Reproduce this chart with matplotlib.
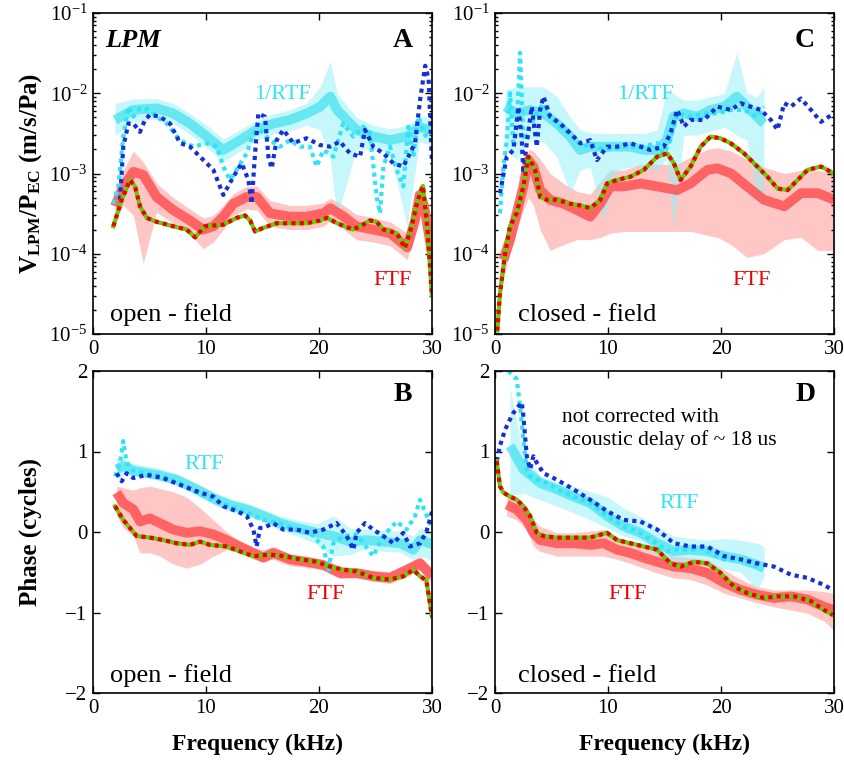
import numpy as np
import matplotlib.pyplot as plt
from matplotlib.ticker import LogLocator, NullFormatter, FixedLocator

plt.rcParams['font.family'] = ['Liberation Serif', 'DejaVu Serif']
plt.rcParams['mathtext.fontset'] = 'custom'
plt.rcParams['mathtext.rm'] = 'Liberation Serif'
plt.rcParams['mathtext.bf'] = 'Liberation Serif:bold'
plt.rcParams['mathtext.it'] = 'Liberation Serif:italic'

# ---------------- A: open field, magnitude ----------------
a_rtf_f = [1.95, 3.57, 5.63, 7.1, 8.58, 10.06, 11.53, 13.0, 14.5, 16.0, 17.4, 18.9, 20.1, 21.0, 21.6,
           23.3, 24.8, 26.3, 27.8, 28.9, 30]
a_rtf_mean = [4.65e-3, 6.2e-3, 6.5e-3, 5.6e-3, 4.2e-3, 2.9e-3, 1.96e-3, 2.6e-3, 3.5e-3, 4.2e-3, 4.65e-3,
              5.6e-3, 6.8e-3, 9.1e-3, 6.2e-3, 3.5e-3, 2.9e-3, 2.6e-3, 2.9e-3, 3.8e-3, 3.4e-3]
a_rtf_hi = [7.5e-3, 8.5e-3, 8.6e-3, 7.5e-3, 5.6e-3, 4.0e-3, 2.7e-3, 3.5e-3, 4.6e-3, 5.5e-3, 6.2e-3,
            7.5e-3, 1.2e-2, 2.5e-2, 1.0e-2, 5.0e-3, 4.0e-3, 3.6e-3, 4.0e-3, 5.0e-3, 5.0e-3]
a_rtf_lo = [3.0e-3, 4.4e-3, 4.8e-3, 4.2e-3, 3.1e-3, 2.1e-3, 1.4e-3, 1.9e-3, 2.6e-3, 3.1e-3, 3.4e-3,
            4.0e-3, 3.5e-3, 1.5e-3, 2.9e-4, 2.0e-3, 2.0e-3, 1.8e-3, 2.2e-4, 2.5e-3, 2.2e-3]
a_ftf_f = [1.95, 2.68, 3.57, 4.45, 5.63, 7.1, 8.58, 9.76, 10.65, 11.53, 12.42, 13.6, 14.5, 15.66, 17.4,
           18.9, 20.4, 21.0, 22.2, 23.3, 24.8, 26.3, 27.8, 28.5, 28.9, 29.3, 30]
a_ftf_mean = [3.9e-4, 6.9e-4, 1.05e-3, 9.6e-4, 5.1e-4, 3.5e-4, 2.6e-4, 2.0e-4, 2.2e-4, 2.9e-4, 4.2e-4,
              5.1e-4, 5.1e-4, 3.2e-4, 2.9e-4, 2.9e-4, 3.2e-4, 3.7e-4, 2.9e-4, 2.2e-4, 2.0e-4, 1.8e-4,
              1.2e-4, 2.6e-4, 5.4e-4, 4.0e-4, 1.0e-4]
a_ftf_hi = [5.5e-4, 1.1e-3, 1.9e-3, 1.4e-3, 7.5e-4, 5.0e-4, 3.6e-4, 2.8e-4, 3.0e-4, 4.0e-4, 5.6e-4,
            6.9e-4, 7.0e-4, 4.6e-4, 4.0e-4, 4.0e-4, 4.3e-4, 4.9e-4, 4.0e-4, 3.1e-4, 2.8e-4, 2.5e-4,
            1.8e-4, 3.6e-4, 7.5e-4, 6.0e-4, 1.6e-4]
a_ftf_lo = [2.6e-4, 4.0e-4, 3.0e-4, 7.6e-5, 3.3e-4, 2.4e-4, 1.8e-4, 1.15e-4, 1.4e-4, 2.0e-4, 3.0e-4,
            3.6e-4, 3.5e-4, 2.2e-4, 2.0e-4, 2.0e-4, 2.2e-4, 2.6e-4, 2.0e-4, 1.5e-4, 1.4e-4, 1.25e-4,
            8.5e-5, 1.8e-4, 3.8e-4, 2.7e-4, 6.0e-5]
a_cyan_f = [1.8, 2.24, 2.68, 3.13, 3.57, 4.16, 4.9, 5.63, 6.52, 7.7, 8.88, 10.06, 10.94, 11.53, 12.12,
            12.71, 13.6, 14.19, 14.78, 15.66, 16.55, 17.43, 18.32, 19.2, 19.79, 20.38, 21.27, 22.15,
            23.04, 23.92, 24.51, 25.1, 25.4, 25.69, 26.28, 26.87, 27.46, 27.9, 28.35, 28.79, 29.4, 30]
a_cyan_v = [4.2e-4, 6.9e-4, 2.88e-3, 6.8e-3, 5.1e-3, 6.5e-3, 6.2e-3, 5.1e-3, 4.2e-3, 2.6e-3, 2.16e-3,
            2.38e-3, 2.16e-3, 1.22e-3, 8.3e-4, 1.11e-3, 1.78e-3, 3.16e-3, 3.5e-3, 2.6e-3, 2.16e-3,
            2.6e-3, 2.16e-3, 2.16e-3, 1.22e-3, 1.96e-3, 1.62e-3, 4.2e-3, 2.88e-3, 3.84e-3, 3.16e-3,
            5.1e-4, 3.2e-4, 1.22e-3, 2.16e-3, 1.11e-3, 6.9e-4, 3.84e-3, 1.62e-3, 5.1e-3, 3.0e-3, 2.6e-3]
a_blue_f = [2.39, 2.68, 3.13, 3.57, 4.16, 4.6, 5.04, 5.93, 6.81, 7.7, 8.58, 9.47, 10.65, 11.53, 12.42,
            13.16, 13.75, 14.04, 14.34, 14.63, 15.22, 15.52, 15.81, 16.25, 16.84, 17.73, 18.9, 20.1,
            20.97, 21.86, 22.74, 23.63, 24.07, 24.8, 25.7, 26.58, 27.46, 28.05, 28.5, 28.94, 29.4,
            29.7, 30]
a_blue_v = [4.7e-4, 2.16e-3, 4.2e-3, 4.2e-3, 3.3e-3, 4.65e-3, 5.4e-3, 5.1e-3, 4.2e-3, 2.4e-3, 2.16e-3,
            1.62e-3, 1.11e-3, 5.4e-4, 9.1e-4, 1.34e-3, 8.3e-4, 4.2e-4, 1.78e-3, 5.6e-3, 5.1e-3,
            1.62e-3, 1.16e-3, 2.6e-3, 3.5e-3, 2.4e-3, 2.75e-3, 2.26e-3, 2.16e-3, 2.5e-3, 1.78e-3,
            1.62e-3, 3.5e-3, 2.16e-3, 1.78e-3, 1.34e-3, 1.22e-3, 1.78e-3, 2.4e-3, 8.2e-3, 2.2e-2,
            1.5e-2, 1.3e-3]
a_fd_f = [1.8, 2.54, 3.27, 3.72, 4.16, 4.75, 5.63, 7.1, 8.29, 9.03, 9.91, 11.53, 12.71, 13.45, 13.9,
          14.34, 15.07, 16.25, 17.43, 18.9, 20.1, 20.7, 21.6, 23.0, 23.9, 24.5, 25.1, 25.7, 26.9, 27.6,
          28.2, 28.6, 28.94, 29.2, 29.6, 30]
a_fd_v = [2.2e-4, 4.7e-4, 8.3e-4, 6.9e-4, 3.9e-4, 2.8e-4, 2.5e-4, 2.2e-4, 2.0e-4, 1.6e-4, 2.2e-4,
          2.3e-4, 2.8e-4, 3.0e-4, 2.6e-4, 1.9e-4, 2.1e-4, 2.4e-4, 2.4e-4, 2.4e-4, 2.6e-4, 2.8e-4,
          2.4e-4, 2.0e-4, 2.3e-4, 2.6e-4, 2.5e-4, 2.0e-4, 1.8e-4, 1.17e-4, 2.2e-4, 3.9e-4, 5.7e-4,
          7.0e-4, 2.0e-4, 3.0e-5]

# ---------------- C: closed field, magnitude ----------------
c_rtf_f = [0.89, 1.92, 3.1, 4.29, 5.47, 6.66, 7.54, 8.43, 9.6, 10.8, 12.0, 13.2, 14.35, 15.2, 15.8,
           16.7, 17.9, 19.1, 20.3, 21.4, 22.3, 23.2, 23.8]
c_rtf_mean = [6.8e-3, 5.6e-3, 6.2e-3, 5.6e-3, 4.2e-3, 2.88e-3, 1.96e-3, 2.16e-3, 2.16e-3, 2.16e-3,
              2.16e-3, 1.96e-3, 1.96e-3, 2.6e-3, 5.1e-3, 5.6e-3, 5.1e-3, 6.2e-3, 6.8e-3, 9.1e-3,
              6.8e-3, 5.1e-3, 4.2e-3]
c_rtf_hi = [1.1e-2, 1.2e-2, 1.2e-2, 1.2e-2, 9.1e-3, 5.0e-3, 3.5e-3, 3.2e-3, 3.16e-3, 3.16e-3, 3.16e-3,
            3.16e-3, 3.5e-3, 1.1e-2, 1.0e-2, 8.2e-3, 8.2e-3, 9.0e-3, 1.0e-2, 3.2e-2, 1.0e-2, 9.0e-3,
            1.2e-2]
c_rtf_lo = [1.96e-3, 1.5e-3, 2.6e-3, 2.5e-3, 1.6e-3, 5.7e-4, 1.1e-3, 1.2e-3, 2.6e-4, 1.1e-3, 1.2e-3,
            1.2e-3, 1.1e-3, 1.5e-3, 2.0e-4, 3.0e-3, 3.0e-3, 3.4e-3, 3.8e-3, 3.0e-3, 2.6e-3, 4.7e-4,
            3.9e-4]
c_ftf_f = [0.74, 1.33, 1.92, 2.51, 2.96, 3.4, 4.0, 4.88, 6.07, 7.25, 8.43, 9.32, 10.2, 11.4, 12.9,
           14.35, 16.1, 17.3, 18.8, 19.7, 20.9, 22.3, 23.8, 25.6, 27.1, 28.55, 30]
c_ftf_mean = [8.4e-5, 1.5e-4, 3.2e-4, 6.9e-4, 1.47e-3, 1.22e-3, 6.2e-4, 4.7e-4, 4.2e-4, 3.5e-4, 2.9e-4,
              4.2e-4, 6.9e-4, 6.9e-4, 7.5e-4, 6.9e-4, 6.2e-4, 7.5e-4, 1.11e-3, 1.16e-3, 1.0e-3,
              6.9e-4, 4.7e-4, 3.9e-4, 5.7e-4, 5.7e-4, 4.7e-4]
c_ftf_hi = [1.2e-4, 2.2e-4, 5.0e-4, 1.0e-3, 2.0e-3, 1.9e-3, 1.5e-3, 1.0e-3, 7.5e-4, 6.0e-4, 5.5e-4,
            8.0e-4, 1.1e-3, 1.1e-3, 1.3e-3, 1.3e-3, 1.3e-3, 1.6e-3, 2.0e-3, 2.1e-3, 1.9e-3, 1.5e-3,
            1.2e-3, 1.0e-3, 1.1e-3, 1.1e-3, 1.0e-3]
c_ftf_lo = [5.0e-5, 1.0e-4, 2.0e-4, 3.5e-4, 5.0e-4, 4.0e-4, 2.0e-4, 1.1e-4, 1.3e-4, 1.5e-4, 1.5e-4,
            1.6e-4, 1.8e-4, 1.9e-4, 1.9e-4, 1.9e-4, 1.9e-4, 1.9e-4, 1.7e-4, 1.6e-4, 1.3e-4, 9.0e-5,
            1.0e-4, 1.5e-4, 1.6e-4, 1.1e-4, 1.1e-4]
c_cyan_f = [0.44, 0.74, 1.04, 1.33, 1.63, 1.92, 2.22, 2.51, 3.1, 3.7, 4.29, 4.88, 5.77, 6.95, 7.84,
            8.43, 9.62, 11.39, 12.87, 14.35, 14.94, 15.53, 16.12, 17.31, 18.49, 19.67, 20.86, 22.04,
            23.22, 23.82]
c_cyan_v = [3.2e-4, 1.22e-3, 2.6e-3, 1.0e-2, 2.16e-3, 3.84e-3, 3.2e-2, 2.6e-3, 3.84e-3, 5.6e-3, 7.5e-3,
            5.1e-3, 3.84e-3, 2.88e-3, 2.16e-3, 2.38e-3, 1.96e-3, 2.16e-3, 2.16e-3, 2.38e-3, 1.78e-3,
            2.6e-3, 5.6e-3, 5.1e-3, 5.6e-3, 5.6e-3, 6.2e-3, 6.2e-3, 5.1e-3, 6.8e-3]
c_blue_f = [0.44, 1.04, 1.63, 2.07, 2.37, 2.51, 2.81, 3.25, 3.7, 3.99, 4.29, 4.88, 5.77, 6.66, 7.54,
            8.43, 9.02, 9.91, 10.8, 11.98, 12.87, 13.76, 14.94, 15.53, 16.12, 16.72, 17.31, 18.49,
            19.67, 20.86, 21.75, 22.63, 23.52, 24.41, 25.0, 25.59, 26.18, 27.07, 27.96, 28.85, 29.73]
c_blue_v = [5.7e-4, 1.62e-3, 1.96e-3, 6.8e-3, 2.6e-3, 1.0e-3, 2.38e-3, 6.8e-3, 2.16e-3, 6.2e-3, 9.1e-3,
            5.1e-3, 4.2e-3, 3.16e-3, 2.38e-3, 2.6e-3, 1.47e-3, 2.16e-3, 2.16e-3, 2.38e-3, 2.16e-3,
            1.96e-3, 2.16e-3, 3.16e-3, 6.2e-3, 3.84e-3, 4.65e-3, 4.65e-3, 6.8e-3, 6.2e-3, 7.5e-3,
            6.8e-3, 6.2e-3, 4.65e-3, 3.5e-3, 7.5e-3, 6.8e-3, 8.6e-3, 6.2e-3, 4.4e-3, 5.3e-3]
c_fd_f = [0.2, 0.44, 0.89, 1.33, 1.92, 2.51, 2.96, 3.55, 3.99, 4.59, 5.47, 6.66, 7.54, 8.43, 9.32,
          9.91, 10.8, 11.98, 13.17, 14.35, 15.24, 15.83, 16.42, 17.31, 18.2, 19.08, 19.97, 20.86,
          22.04, 23.22, 24.11, 25.0, 25.89, 26.78, 27.66, 28.85, 30]
c_fd_v = [1.1e-5, 3.2e-5, 1.0e-4, 2.2e-4, 3.2e-4, 6.9e-4, 1.62e-3, 1.11e-3, 5.1e-4, 4.7e-4, 4.7e-4,
          4.2e-4, 4.0e-4, 3.7e-4, 4.7e-4, 7.5e-4, 8.3e-4, 9.1e-4, 1.11e-3, 1.62e-3, 1.78e-3, 1.34e-3,
          8.3e-4, 1.22e-3, 2.16e-3, 2.88e-3, 2.74e-3, 2.38e-3, 1.78e-3, 1.22e-3, 9.1e-4, 6.5e-4,
          6.2e-4, 8.3e-4, 1.11e-3, 1.22e-3, 1.0e-3]

# ---------------- B: open field, phase ----------------
b_rtf_f = [2.09, 2.68, 3.57, 5.63, 7.4, 9.17, 10.94, 12.42, 13.6, 15.07, 16.55, 18.02, 19.79, 21.27,
           22.74, 24.22, 25.69, 27.17, 28.35, 28.94, 30]
b_rtf_mean = [0.78, 0.82, 0.76, 0.71, 0.65, 0.53, 0.40, 0.32, 0.28, 0.20, 0.11, 0.05, -0.01, -0.05,
              -0.12, -0.10, -0.12, -0.14, -0.22, -0.10, -0.15]
b_rtf_hi = [0.90, 0.92, 0.85, 0.80, 0.72, 0.60, 0.48, 0.40, 0.36, 0.28, 0.20, 0.15, 0.10, 0.20, 0.05,
            0.03, 0.02, 0.01, -0.05, 0.05, 0.0]
b_rtf_lo = [0.65, 0.70, 0.70, 0.65, 0.58, 0.46, 0.32, 0.24, 0.20, 0.12, 0.02, -0.05, -0.15, -0.30,
            -0.28, -0.20, -0.24, -0.25, -0.35, -0.30, -0.35]
b_ftf_f = [2.09, 2.68, 3.57, 4.16, 5.04, 5.93, 7.1, 8.29, 9.47, 10.65, 11.83, 13.0, 14.19, 15.07,
           15.96, 17.43, 18.9, 20.38, 21.86, 23.33, 24.8, 26.28, 27.76, 28.94, 30]
b_ftf_mean = [0.49, 0.36, 0.28, 0.13, 0.17, 0.11, 0.03, -0.01, 0.01, -0.03, -0.10, -0.18, -0.26,
              -0.32, -0.26, -0.34, -0.37, -0.41, -0.51, -0.51, -0.55, -0.57, -0.47, -0.39, -0.55]
b_ftf_hi = [0.57, 0.55, 0.52, 0.55, 0.57, 0.54, 0.50, 0.43, 0.30, 0.15, 0.0, -0.12, -0.20, -0.22,
            -0.18, -0.28, -0.32, -0.34, -0.42, -0.45, -0.48, -0.49, -0.40, -0.30, -0.45]
b_ftf_lo = [0.20, 0.05, -0.05, -0.26, -0.26, -0.30, -0.40, -0.45, -0.40, -0.30, -0.22, -0.26, -0.34,
            -0.36, -0.34, -0.42, -0.44, -0.47, -0.58, -0.57, -0.61, -0.64, -0.56, -0.47, -0.65]
b_cyan_f = [1.95, 2.39, 2.68, 2.98, 3.57, 4.75, 6.22, 7.7, 9.17, 10.65, 12.12, 13.6, 15.07, 16.55,
            18.02, 19.2, 20.38, 20.83, 21.27, 22.15, 23.33, 24.8, 25.69, 26.87, 27.76, 28.5, 28.94, 30]
b_cyan_v = [0.69, 0.86, 1.13, 0.86, 0.76, 0.73, 0.69, 0.61, 0.49, 0.40, 0.32, 0.24, 0.15, 0.11, 0.03,
            -0.01, -0.18, -0.47, -0.14, -0.05, -0.03, -0.30, -0.05, 0.13, 0.03, 0.20, 0.40, 0.05]
b_blue_f = [2.09, 2.54, 2.98, 3.57, 4.75, 6.22, 7.99, 9.47, 10.65, 11.53, 12.71, 13.6, 14.19, 14.48,
            14.78, 15.07, 15.96, 16.84, 18.02, 19.2, 20.38, 21.56, 22.45, 23.04, 23.33, 24.07, 24.8,
            25.69, 26.58, 27.46, 28.05, 28.94, 29.5, 30]
b_blue_v = [0.73, 0.63, 0.73, 0.67, 0.71, 0.67, 0.57, 0.49, 0.44, 0.32, 0.26, 0.20, 0.03, -0.18, 0.05,
            0.05, 0.11, 0.03, 0.03, -0.01, 0.03, 0.11, -0.05, -0.22, -0.01, 0.11, 0.03, -0.05, -0.14,
            -0.01, -0.18, -0.14, 0.0, 0.25]
b_fd_f = [1.95, 2.68, 3.86, 5.04, 6.22, 7.4, 8.58, 9.47, 10.35, 11.83, 13.0, 14.19, 15.66, 16.84,
          18.32, 19.79, 20.97, 22.15, 23.33, 24.8, 26.28, 27.46, 28.35, 28.94, 29.5, 30]
b_fd_v = [0.32, 0.15, -0.05, -0.07, -0.10, -0.14, -0.16, -0.12, -0.16, -0.18, -0.24, -0.30, -0.28,
          -0.30, -0.34, -0.37, -0.43, -0.47, -0.49, -0.57, -0.59, -0.55, -0.47, -0.55, -0.60, -1.05]

# ---------------- D: closed field, phase ----------------
d_rtf_f = [1.33, 2.51, 3.99, 5.47, 6.95, 8.43, 9.91, 11.39, 12.87, 14.35, 15.83, 17.31, 18.79, 20.27,
           21.75, 23.22, 23.82]
d_rtf_mean = [1.07, 0.78, 0.61, 0.53, 0.44, 0.36, 0.20, 0.07, -0.01, -0.14, -0.24, -0.22, -0.24,
              -0.30, -0.34, -0.41, -0.45]
d_rtf_hi = [1.80, 0.95, 0.70, 0.62, 0.57, 0.50, 0.44, 0.30, 0.19, 0.07, -0.05, -0.08, -0.10, -0.08,
            -0.10, -0.14, -0.18]
d_rtf_lo = [0.45, 0.48, 0.40, 0.32, 0.24, 0.15, 0.05, -0.05, -0.12, -0.30, -0.35, -0.38, -0.42, -0.46,
            -0.50, -0.72, -0.55]
d_ftf_f = [1.04, 1.92, 2.81, 3.4, 3.99, 5.47, 6.95, 8.43, 9.62, 10.8, 11.98, 13.17, 14.35, 15.83,
           17.31, 18.79, 20.27, 21.75, 23.22, 24.7, 26.18, 27.66, 29.14, 30]
d_ftf_mean = [0.34, 0.28, 0.15, -0.01, -0.10, -0.14, -0.14, -0.16, -0.14, -0.22, -0.26, -0.32, -0.37,
              -0.43, -0.45, -0.51, -0.63, -0.72, -0.78, -0.82, -0.80, -0.84, -0.93, -0.97]
d_ftf_hi = [0.49, 0.44, 0.32, 0.15, 0.07, -0.01, -0.01, 0.01, 0.03, -0.07, -0.14, -0.18, -0.24, -0.30,
            -0.32, -0.34, -0.47, -0.59, -0.68, -0.72, -0.72, -0.72, -0.74, -0.76]
d_ftf_lo = [0.20, 0.15, 0.03, -0.18, -0.24, -0.30, -0.30, -0.30, -0.30, -0.34, -0.39, -0.45, -0.51,
            -0.57, -0.59, -0.66, -0.76, -0.82, -0.88, -0.93, -0.97, -1.01, -1.11, -1.22]
d_cyan_f = [1.18, 1.63, 1.92, 2.22, 2.51, 2.81, 3.1, 3.7, 4.59, 5.47, 6.95, 8.43, 9.91, 11.39, 12.87,
            14.35, 15.24, 16.12, 17.31, 18.2, 19.08, 20.27, 21.75, 22.63, 23.52]
d_cyan_v = [2.0, 1.94, 1.90, 1.56, 1.15, 0.78, 0.69, 0.65, 0.61, 0.53, 0.44, 0.36, 0.20, 0.07, -0.01,
            -0.14, -0.24, -0.22, -0.22, -0.20, -0.26, -0.34, -0.34, -0.39, -0.45]
d_blue_f = [0.0, 0.44, 0.89, 1.33, 1.63, 2.07, 2.37, 2.51, 2.81, 3.1, 3.4, 3.7, 4.29, 5.47, 6.95, 8.43,
            9.91, 11.39, 12.87, 14.35, 15.83, 17.31, 18.79, 20.27, 21.75, 23.22, 24.7, 26.18, 27.66,
            29.14, 29.88]
d_blue_v = [0.78, 1.07, 1.27, 1.40, 1.48, 1.56, 1.61, 1.44, 0.94, 0.78, 0.94, 0.86, 0.73, 0.65, 0.53,
            0.40, 0.26, 0.15, 0.13, 0.03, -0.14, -0.18, -0.18, -0.30, -0.34, -0.39, -0.43, -0.53,
            -0.57, -0.66, -0.72]
d_fd_f = [0.15, 0.44, 0.74, 1.33, 1.92, 2.51, 3.1, 3.7, 4.29, 5.47, 6.95, 8.43, 9.91, 10.8, 11.98,
          13.17, 14.35, 15.53, 16.42, 17.6, 18.79, 19.97, 21.15, 22.34, 23.82, 25.0, 26.48, 27.96,
          29.14, 29.88]
d_fd_v = [0.88, 0.57, 0.49, 0.44, 0.40, 0.32, 0.20, -0.01, -0.05, -0.07, -0.07, -0.07, -0.01, -0.10,
          -0.14, -0.18, -0.22, -0.39, -0.43, -0.37, -0.39, -0.51, -0.68, -0.76, -0.82, -0.80, -0.80,
          -0.86, -0.97, -1.03]

CYAN_FILL = '#8ff0f7'
CYAN_MEAN = '#3fe1ee'
CYAN_DOT = '#2ee4f6'
BLUE_DOT = '#1630d8'
RED_FILL = '#ffa8a8'
RED_MEAN = '#ff5252'
RED_DOT = '#ee0000'
GREEN = '#5fd000'
DOTS = (0, (1, 1))


def draw(ax, rf, rm, rlo, rhi, ff, fm, flo, fhi, cf, cv, bf, bv, df, dv):
    ax.fill_between(ff, flo, fhi, color=RED_FILL, alpha=0.65, lw=0)
    ax.plot(ff, fm, color=RED_MEAN, lw=7, alpha=0.85, solid_capstyle='butt')
    ax.fill_between(rf, rlo, rhi, color=CYAN_FILL, alpha=0.5, lw=0)
    ax.plot(rf, rm, color=CYAN_MEAN, lw=7, alpha=0.7, solid_capstyle='butt')
    ax.plot(cf, cv, color=CYAN_DOT, lw=3, ls=DOTS, dash_capstyle='butt')
    ax.plot(bf, bv, color=BLUE_DOT, lw=3, ls=DOTS, dash_capstyle='butt')
    ax.plot(df, dv, color=GREEN, lw=3)
    ax.plot(df, dv, color=RED_DOT, lw=3, ls=DOTS, dash_capstyle='butt')


fig = plt.figure(figsize=(8.44, 7.64), dpi=100)
W = 339 / 844
H_TOP = 321 / 764
H_BOT = 322 / 764
ax_a = fig.add_axes([93 / 844, 430 / 764, W, H_TOP])
ax_c = fig.add_axes([495 / 844, 430 / 764, W, H_TOP])
ax_b = fig.add_axes([93 / 844, 71 / 764, W, H_BOT])
ax_d = fig.add_axes([495 / 844, 71 / 764, W, H_BOT])

draw(ax_a, a_rtf_f, a_rtf_mean, a_rtf_lo, a_rtf_hi, a_ftf_f, a_ftf_mean, a_ftf_lo, a_ftf_hi,
     a_cyan_f, a_cyan_v, a_blue_f, a_blue_v, a_fd_f, a_fd_v)
draw(ax_c, c_rtf_f, c_rtf_mean, c_rtf_lo, c_rtf_hi, c_ftf_f, c_ftf_mean, c_ftf_lo, c_ftf_hi,
     c_cyan_f, c_cyan_v, c_blue_f, c_blue_v, c_fd_f, c_fd_v)
draw(ax_b, b_rtf_f, b_rtf_mean, b_rtf_lo, b_rtf_hi, b_ftf_f, b_ftf_mean, b_ftf_lo, b_ftf_hi,
     b_cyan_f, b_cyan_v, b_blue_f, b_blue_v, b_fd_f, b_fd_v)
draw(ax_d, d_rtf_f, d_rtf_mean, d_rtf_lo, d_rtf_hi, d_ftf_f, d_ftf_mean, d_ftf_lo, d_ftf_hi,
     d_cyan_f, d_cyan_v, d_blue_f, d_blue_v, d_fd_f, d_fd_v)

for ax in (ax_a, ax_c, ax_b, ax_d):
    ax.set_xlim(0, 30)
    ax.xaxis.set_major_locator(FixedLocator([0, 10, 20, 30]))
    ax.tick_params(which='both', direction='in', top=True, right=True, labelsize=15, width=1, pad=4)
    ax.tick_params(which='major', length=5)
    ax.tick_params(which='minor', length=2.5)
    for s in ax.spines.values():
        s.set_linewidth(1.2)

for ax in (ax_a, ax_c):
    ax.set_yscale('log')
    ax.set_ylim(1e-5, 1e-1)
    ax.yaxis.set_major_locator(LogLocator(base=10, numticks=10))
    ax.yaxis.set_minor_locator(LogLocator(base=10, subs=np.arange(2, 10), numticks=20))
    ax.yaxis.set_minor_formatter(NullFormatter())

for ax in (ax_b, ax_d):
    ax.set_ylim(-2, 2)
    ax.yaxis.set_major_locator(FixedLocator([-2, -1, 0, 1, 2]))

# panel annotations
ax_a.text(0.035, 0.915, 'LPM', transform=ax_a.transAxes, fontsize=19, fontweight='bold',
          style='italic', va='center')
for ax, letter in ((ax_a, 'A'), (ax_c, 'C'), (ax_b, 'B'), (ax_d, 'D')):
    ax.text(0.915, 0.915 if ax in (ax_a, ax_c) else 0.928, letter, transform=ax.transAxes,
            fontsize=20, fontweight='bold', ha='center', va='center')

ax_a.text(0.56, 0.745, '1/RTF', transform=ax_a.transAxes, color=CYAN_DOT, fontsize=16,
          ha='center', va='center')
ax_a.text(0.885, 0.168, 'FTF', transform=ax_a.transAxes, color=RED_DOT, fontsize=16,
          ha='center', va='center')
ax_a.text(0.05, 0.06, 'open - field', transform=ax_a.transAxes, fontsize=19, va='center')

ax_c.text(0.444, 0.745, '1/RTF', transform=ax_c.transAxes, color=CYAN_DOT, fontsize=16,
          ha='center', va='center')
ax_c.text(0.757, 0.168, 'FTF', transform=ax_c.transAxes, color=RED_DOT, fontsize=16,
          ha='center', va='center')
ax_c.text(0.068, 0.06, 'closed - field', transform=ax_c.transAxes, fontsize=19, va='center')

ax_b.text(0.327, 0.71, 'RTF', transform=ax_b.transAxes, color=CYAN_DOT, fontsize=16,
          ha='center', va='center')
ax_b.text(0.687, 0.307, 'FTF', transform=ax_b.transAxes, color=RED_DOT, fontsize=16,
          ha='center', va='center')
ax_b.text(0.05, 0.053, 'open - field', transform=ax_b.transAxes, fontsize=19, va='center')

ax_d.text(0.198, 0.82, 'not corrected with\nacoustic delay of ~ 18 us', transform=ax_d.transAxes,
          fontsize=15.5, va='center', linespacing=1.25)
ax_d.text(0.544, 0.587, 'RTF', transform=ax_d.transAxes, color=CYAN_DOT, fontsize=16,
          ha='center', va='center')
ax_d.text(0.39, 0.307, 'FTF', transform=ax_d.transAxes, color=RED_DOT, fontsize=16,
          ha='center', va='center')
ax_d.text(0.068, 0.053, 'closed - field', transform=ax_d.transAxes, fontsize=19, va='center')

# axis titles
fig.text(0.036, 0.773, r'V$_{\mathbf{LPM}}$/P$_{\mathbf{EC}}$ (m/s/Pa)', rotation=90,
         fontsize=18, fontweight='bold', ha='center', va='center')
fig.text(0.036, 0.304, 'Phase (cycles)', rotation=90, fontsize=18, fontweight='bold',
         ha='center', va='center')
fig.text(0.305, 0.025, 'Frequency (kHz)', fontsize=17, fontweight='bold', ha='center', va='center')
fig.text(0.787, 0.025, 'Frequency (kHz)', fontsize=17, fontweight='bold', ha='center', va='center')

fig.savefig('out.png', dpi=100)
